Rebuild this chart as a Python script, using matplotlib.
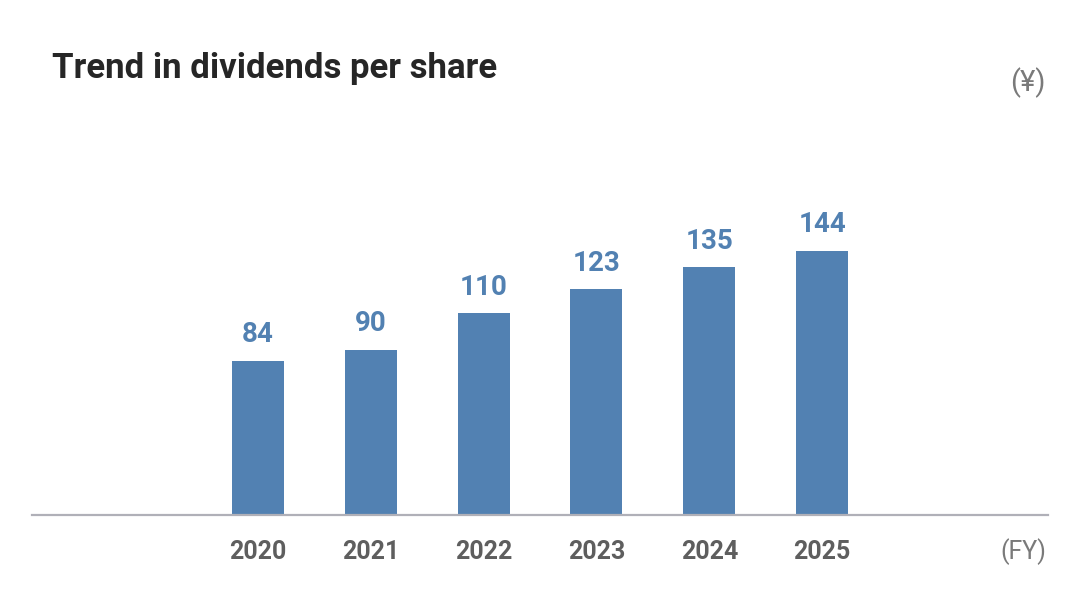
import matplotlib
matplotlib.use("Agg")
import matplotlib.pyplot as plt

years = ["2020", "2021", "2022", "2023", "2024", "2025"]
dividends = [84, 90, 110, 123, 135, 144]

BAR_COLOR = "#5281b2"
LABEL_COLOR = "#5281b2"
TICK_COLOR = "#5e5e5e"
UNIT_COLOR = "#7a7a7a"

plt.rcParams["font.family"] = ["Roboto", "DejaVu Sans"]

fig = plt.figure(figsize=(10.8, 6), dpi=100)
ax = fig.add_axes([32 / 1080, 85 / 600, 1016 / 1080, 365 / 600])

x = list(range(len(years)))
bars = ax.bar(x, dividends, width=0.46, color=BAR_COLOR, zorder=2)

for xi, v in zip(x, dividends):
    ax.annotate(str(v), (xi, v), xytext=(0, 9), textcoords="offset points",
                ha="center", va="bottom", fontsize=20, fontweight="bold",
                color=LABEL_COLOR)

ax.set_xlim(-2, 7)
ax.set_ylim(0, 199)
ax.set_xticks(x)
ax.set_xticklabels(years, fontsize=18, fontweight="bold", color=TICK_COLOR)
ax.tick_params(axis="x", length=0, pad=18)
ax.set_yticks([])

for side in ("left", "right", "top"):
    ax.spines[side].set_visible(False)
ax.spines["bottom"].set_color("#b0b0b8")
ax.spines["bottom"].set_linewidth(1.6)

fig.text(52 / 1080, 1 - 78 / 600, "Trend in dividends per share",
         fontsize=25, fontweight="bold", color="#262626", ha="left",
         va="baseline")
fig.text(1046 / 1080, 1 - 91 / 600, "(¥)", fontsize=21, color=UNIT_COLOR,
         ha="right", va="baseline")
fig.text(1046 / 1080, 1 - 559 / 600, "(FY)", fontsize=18, color=UNIT_COLOR,
         ha="right", va="baseline")

fig.savefig("out.png", dpi=100)
